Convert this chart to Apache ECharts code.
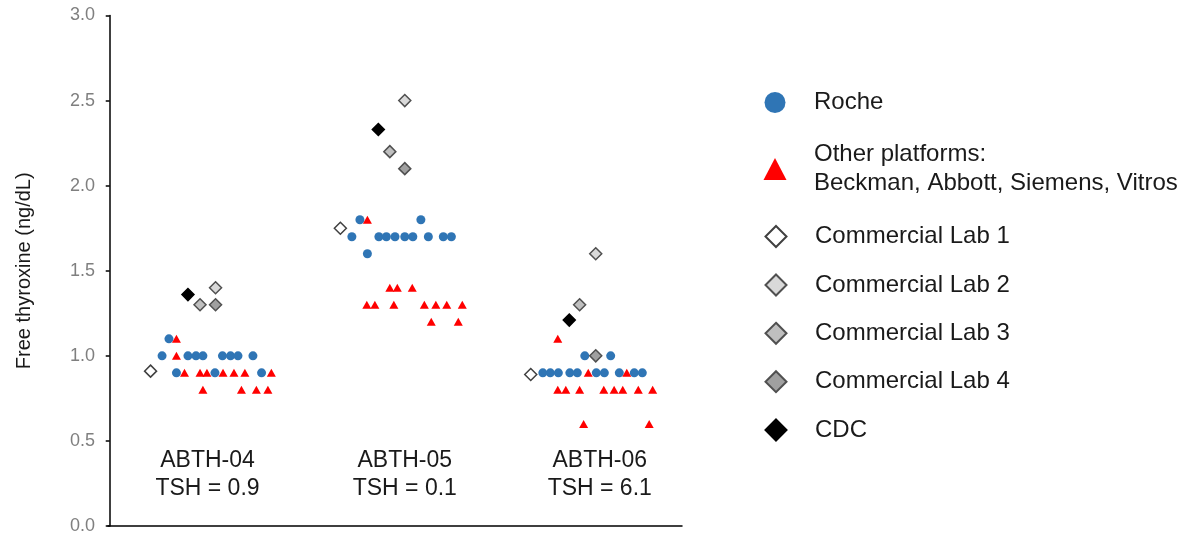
<!DOCTYPE html>
<html>
<head>
<meta charset="utf-8">
<script src="https://cdn.jsdelivr.net/npm/echarts@6/dist/echarts.min.js"></script>
<style>html,body{margin:0;padding:0;background:#fff;}#chart{width:1187px;height:535px;}</style>
</head>
<body>
<div id="chart"></div>
<script>
// ---- data ----
const sampleIds = ['ABTH-04', 'ABTH-05', 'ABTH-06'];
const tshValues = ['0.9', '0.1', '6.1'];
const sampleX = [17.0, 51.3, 85.2];
const sampleLabelY = 0.30;
const yTicks = [0, 0.5, 1.0, 1.5, 2.0, 2.5, 3.0];

const roche = [
  [10.3,1.1],
  [9.1,1.0],[13.6,1.0],[15.0,1.0],[16.2,1.0],[19.6,1.0],[21.0,1.0],[22.3,1.0],[24.9,1.0],
  [11.6,0.9],[18.3,0.9],[26.4,0.9],
  [43.5,1.8],[54.1,1.8],
  [42.1,1.7],[46.8,1.7],[48.1,1.7],[49.6,1.7],[51.3,1.7],[52.7,1.7],[55.4,1.7],[58.0,1.7],[59.4,1.7],
  [44.8,1.6],
  [82.6,1.0],[87.1,1.0],
  [75.3,0.9],[76.6,0.9],[78.0,0.9],[80.0,0.9],[81.3,0.9],[84.6,0.9],[86.0,0.9],[88.6,0.9],[91.2,0.9],[92.6,0.9]
];
const otherPlatforms = [
  [11.6,1.1],[11.6,1.0],
  [13.0,0.9],[15.7,0.9],[16.9,0.9],[19.7,0.9],[21.6,0.9],[23.5,0.9],[28.1,0.9],
  [16.2,0.8],[22.9,0.8],[25.5,0.8],[27.5,0.8],
  [44.8,1.8],
  [48.7,1.4],[50.0,1.4],[52.6,1.4],
  [44.7,1.3],[46.1,1.3],[49.4,1.3],[54.7,1.3],[56.7,1.3],[58.6,1.3],[61.3,1.3],
  [55.9,1.2],[60.6,1.2],
  [77.9,1.1],
  [83.2,0.9],[89.9,0.9],
  [77.9,0.8],[79.3,0.8],[81.7,0.8],[85.9,0.8],[87.7,0.8],[89.2,0.8],[91.9,0.8],[94.4,0.8],
  [82.4,0.6],[93.8,0.6]
];
const lab1 = [[7.1,0.91],[40.1,1.75],[73.2,0.89]];
const lab2 = [[18.4,1.40],[51.3,2.50],[84.5,1.60]];
const lab3 = [[15.7,1.30],[48.7,2.20],[81.7,1.30]];
const lab4 = [[18.4,1.30],[51.3,2.10],[84.5,1.00]];
const cdc  = [[13.6,1.36],[46.7,2.33],[79.9,1.21]];

const names = {
  roche: 'Roche',
  other: 'Other platforms:\nBeckman, Abbott, Siemens, Vitros',
  lab1: 'Commercial Lab 1',
  lab2: 'Commercial Lab 2',
  lab3: 'Commercial Lab 3',
  lab4: 'Commercial Lab 4',
  cdc: 'CDC'
};

// ---- chart ----
const FONT = 'Liberation Sans, Arial, sans-serif';
const chart = echarts.init(document.getElementById('chart'), null, {renderer: 'canvas'});

const labelData = sampleIds.map((id, i) => ({
  value: [sampleX[i], sampleLabelY],
  name: id + '\nTSH = ' + tshValues[i]
}));

function diamondSeries(name, data, fill, border) {
  return {
    name: name, type: 'scatter', data: data, symbol: 'diamond', symbolSize: 12,
    itemStyle: {color: fill, borderColor: border, borderWidth: 1.5, opacity: 1},
    z: 4
  };
}

const legendBase = {
  orient: 'vertical', padding: 0, itemGap: 0, selectedMode: false,
  textStyle: {fontSize: 24, fontFamily: FONT, color: '#1a1a1a', lineHeight: 28}
};
function legendItem(name, left, top, w, h, padLeft, extra) {
  return Object.assign({}, legendBase, {
    data: [name], left: left, top: top, itemWidth: w, itemHeight: h,
    textStyle: Object.assign({}, legendBase.textStyle, {padding: [0, 0, 0, padLeft]})
  }, extra || {});
}

const option = {
  animation: false,
  grid: {left: 108, right: 505, top: 15.5, bottom: 8, containLabel: false},
  xAxis: {
    type: 'value', min: -0.3, max: 99.5,
    axisLine: {show: true, onZero: false, lineStyle: {color: '#000', width: 1.5}},
    axisTick: {show: false}, axisLabel: {show: false}, splitLine: {show: false}
  },
  yAxis: {
    type: 'value', min: yTicks[0], max: yTicks[yTicks.length - 1], interval: 0.5,
    name: 'Free thyroxine (ng/dL)', nameLocation: 'middle', nameGap: 74,
    nameTextStyle: {fontSize: 20, fontFamily: FONT, color: '#1a1a1a'},
    axisLine: {show: true, lineStyle: {color: '#000', width: 1.5}},
    axisTick: {show: true, length: 4, lineStyle: {color: '#000', width: 1.5}},
    axisLabel: {fontSize: 18, fontFamily: FONT, color: '#7f7f7f', margin: 13,
      formatter: v => v.toFixed(1)},
    splitLine: {show: false}
  },
  legend: [
    legendItem(names.roche, 764.5, 88.5, 21, 21, 23.5),
    legendItem(names.other, 763.5, 140, 23, 22, 22.5,
      {textStyle: Object.assign({}, legendBase.textStyle, {padding: [0,0,0,22.5], lineHeight: 29})}),
    legendItem(names.lab1, 764.5, 222.5, 21, 21, 23.5, {itemStyle: {borderWidth: 2}}),
    legendItem(names.lab2, 764.5, 271, 21, 21, 23.5, {itemStyle: {borderWidth: 2}}),
    legendItem(names.lab3, 764.5, 319.3, 21, 21, 23.5, {itemStyle: {borderWidth: 2}}),
    legendItem(names.lab4, 764.5, 367.7, 21, 21, 23.5, {itemStyle: {borderWidth: 2}}),
    legendItem(names.cdc, 764.5, 416, 21, 21, 23.5, {itemStyle: {borderWidth: 2}})
  ],
  series: [
    {name: names.roche, type: 'scatter', data: roche, symbol: 'circle', symbolSize: 9,
      itemStyle: {color: '#2F75B5', opacity: 1}, z: 2},
    {name: names.other, type: 'scatter', data: otherPlatforms, symbol: 'triangle', symbolSize: [9, 8],
      itemStyle: {color: '#FF0000', opacity: 1}, z: 3},
    diamondSeries(names.lab1, lab1, '#ffffff', '#404040'),
    diamondSeries(names.lab2, lab2, '#d9d9d9', '#505050'),
    diamondSeries(names.lab3, lab3, '#bfbfbf', '#505050'),
    diamondSeries(names.lab4, lab4, '#a0a0a0', '#505050'),
    diamondSeries(names.cdc, cdc, '#000000', '#000000'),
    {name: 'sampleLabels', type: 'scatter', data: labelData, symbolSize: 0, silent: true,
      itemStyle: {opacity: 1, color: 'transparent'},
      label: {show: true, position: 'inside', formatter: p => p.name,
        fontSize: 23, fontFamily: FONT, color: '#1a1a1a', lineHeight: 28, align: 'center'},
      z: 5}
  ]
};
chart.setOption(option);
</script>
</body>
</html>
